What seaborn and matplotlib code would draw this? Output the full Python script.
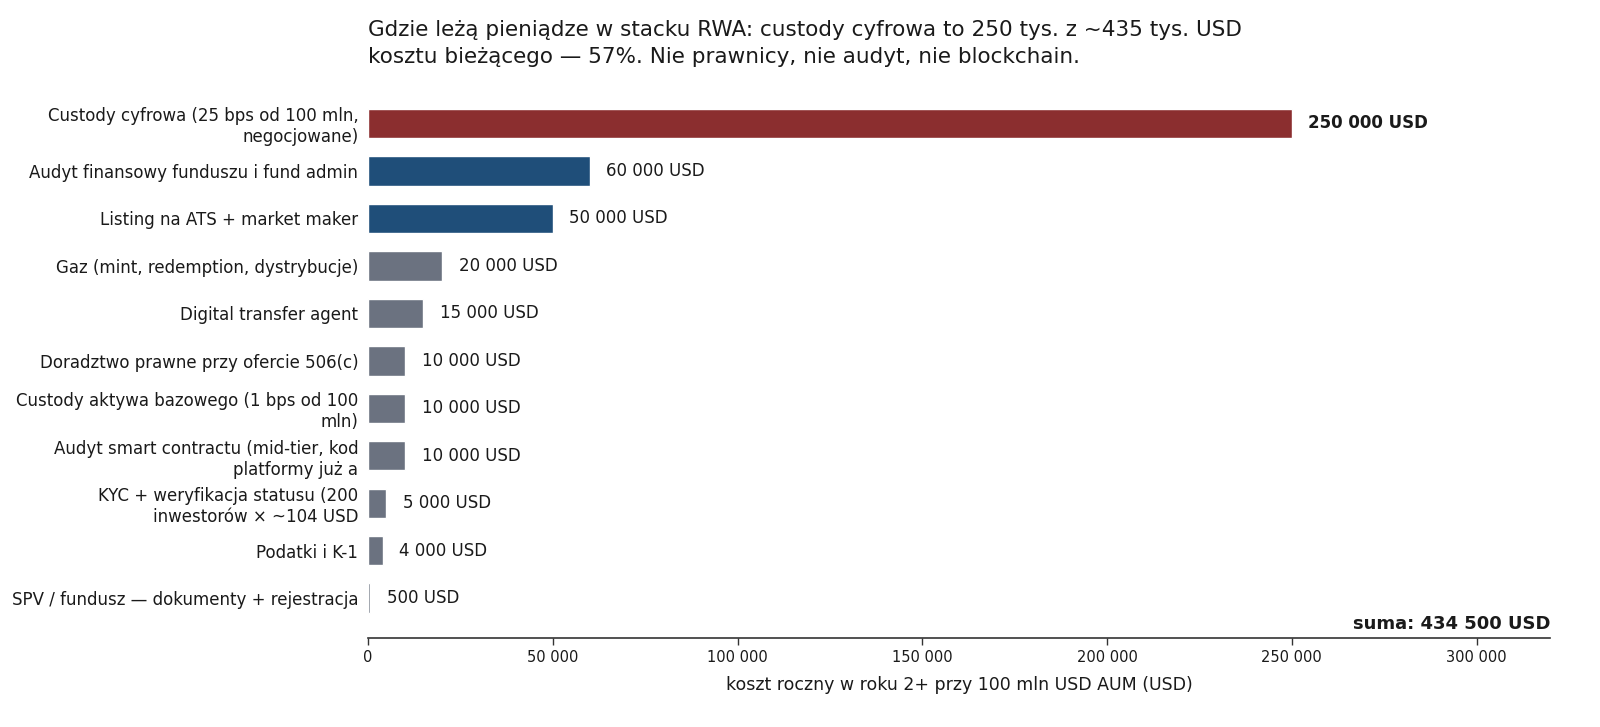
import seaborn as sns
import matplotlib.pyplot as plt
import pandas as pd
from matplotlib.ticker import FuncFormatter

# koszty roczne, rok 2+, 100 mln USD AUM
labels = [
    "Custody cyfrowa (25 bps od 100 mln,\nnegocjowane)",
    "Audyt finansowy funduszu i fund admin",
    "Listing na ATS + market maker",
    "Gaz (mint, redemption, dystrybucje)",
    "Digital transfer agent",
    "Doradztwo prawne przy ofercie 506(c)",
    "Custody aktywa bazowego (1 bps od 100\nmln)",
    "Audyt smart contractu (mid-tier, kod\nplatformy już a",
    "KYC + weryfikacja statusu (200\ninwestorów × ~104 USD",
    "Podatki i K-1",
    "SPV / fundusz — dokumenty + rejestracja",
]
values = [250000, 60000, 50000, 20000, 15000, 10000, 10000, 10000, 5000, 4000, 500]
groups = ["custody", "audit", "audit", "other", "other", "other", "other", "other", "other", "other", "other"]
group_colors = {"custody": "#8b2e2f", "audit": "#1f4e79", "other": "#6b7280"}

df = pd.DataFrame({"pozycja": labels, "koszt": values, "grupa": groups})

sns.set_style("white")
plt.rcParams['font.family'] = ['DejaVu Sans']
plt.rcParams['text.color'] = '#1a1a1a'
plt.rcParams['axes.labelcolor'] = '#1a1a1a'
plt.rcParams['xtick.color'] = '#1a1a1a'
plt.rcParams['ytick.color'] = '#1a1a1a'

fig, ax = plt.subplots(figsize=(16, 7.27), dpi=100)
fig.subplots_adjust(left=0.23, right=0.969, bottom=0.1224, top=0.8693)

palette = {lab: group_colors[g] for lab, g in zip(labels, groups)}
sns.barplot(data=df, x="koszt", y="pozycja", hue="pozycja", palette=palette,
            legend=False, width=0.62, orient="h", saturation=1, ax=ax)

def fmt(v):
    return f"{int(v):,}".replace(",", " ")

for i, v in enumerate(values):
    ax.annotate(f"{fmt(v)} USD", xy=(v, i), xytext=(12, 0), textcoords="offset points",
                va="center", ha="left", fontsize=12,
                fontweight="bold" if i == 0 else "normal")

ax.set_xlim(0, 320000)
ax.set_ylim(10.84, -0.6)
ax.xaxis.set_major_formatter(FuncFormatter(lambda x, p: fmt(x)))
ax.tick_params(axis="x", labelsize=10.5, length=5, width=1, color="#333333", bottom=True)
ax.tick_params(axis="y", labelsize=12, length=0, pad=7)
for s in ["top", "right", "left"]:
    ax.spines[s].set_visible(False)
ax.spines["bottom"].set_color("#333333")
ax.spines["bottom"].set_linewidth(1.2)

ax.set_ylabel("")
ax.set_xlabel("koszt roczny w roku 2+ przy 100 mln USD AUM (USD)", fontsize=12.5, labelpad=8)
ax.set_title("Gdzie leżą pieniądze w stacku RWA: custody cyfrowa to 250 tys. z ~435 tys. USD\n"
             "kosztu bieżącego — 57%. Nie prawnicy, nie audyt, nie blockchain.",
             loc="left", fontsize=15.5, pad=23, linespacing=1.45)

ax.text(1.0, 0.01, f"suma: {fmt(sum(values))} USD", transform=ax.transAxes,
        ha="right", va="bottom", fontsize=13, fontweight="bold")

fig.savefig("out.png", dpi=100)
